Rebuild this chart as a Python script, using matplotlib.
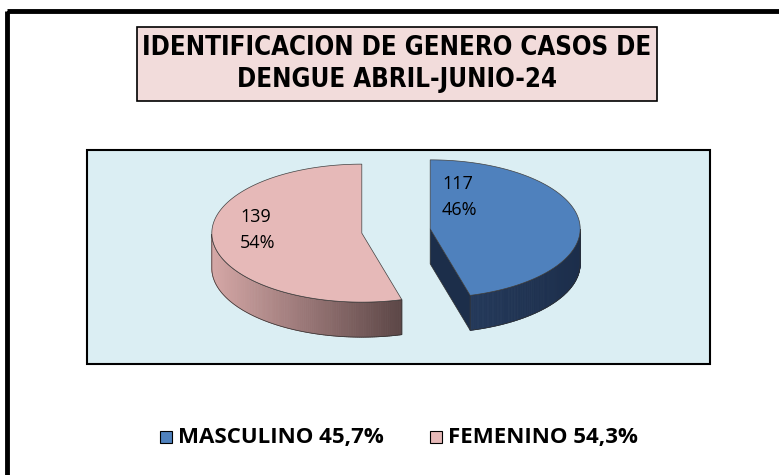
import numpy as np
import matplotlib
matplotlib.use("Agg")
import matplotlib.pyplot as plt
from matplotlib.patches import Polygon, Rectangle
from matplotlib.colors import to_rgb

# data
labels = ["MASCULINO", "FEMENINO"]
cases = [117, 139]
legend_pct = ["45,7%", "54,3%"]
top_colors = ["#4F81BD", "#E6B9B8"]
title = "IDENTIFICACION DE GENERO CASOS DE\nDENGUE ABRIL-JUNIO-24"

W, H = 779, 475
fig = plt.figure(figsize=(W / 100, H / 100), dpi=100)
ax = fig.add_axes([0, 0, 1, 1])
ax.set_xlim(0, W)
ax.set_ylim(H, 0)
ax.axis("off")

# outer frame
ax.add_patch(Rectangle((7, 11), 820, 520, fill=False, ec="black", lw=3.5))

# title box
ax.add_patch(Rectangle((137, 27), 520, 74, fc="#F2DCDB", ec="black", lw=1.2))
ax.text(397, 64, title, ha="center", va="center", fontsize=18.5, fontweight="bold",
        family="DejaVu Sans", fontstretch="condensed", linespacing=1.3)

# plot area
ax.add_patch(Rectangle((87, 150), 623, 214, fc="#DBEEF3", ec="black", lw=1.5))

# pie geometry (pixel units)
cx, cy = 396, 231
rx, ry = 150, 69
depth = 35
explode = 0.23

total = sum(cases)
spans = [360.0 * v / total for v in cases]


def pt(theta, ox, oy, dz=0):
    t = np.radians(theta)
    return (cx + ox + rx * np.cos(t), cy + oy - ry * np.sin(t) + dz)


def blend(c1, c2, f):
    a, b = np.array(to_rgb(c1)), np.array(to_rgb(c2))
    return tuple(a + (b - a) * f)


wall_cols = [("#24395A", "#1C2E4B"), ("#D6A8A7", "#5C4646")]
cut_col = "#1C2E4A"
label_pos = [(442, 197), (240, 230)]

start = 90.0
for i, span in enumerate(spans):
    a1, a2 = start, start - span
    mid = (a1 + a2) / 2
    ox = explode * rx * np.cos(np.radians(mid))
    oy = -explode * ry * np.sin(np.radians(mid))
    c = (cx + ox, cy + oy)

    # radial cut faces
    for ang, vis in ((a1, np.cos(np.radians(a1)) < -1e-6),
                     (a2, np.cos(np.radians(a2)) > 1e-6)):
        if vis:
            p = pt(ang, ox, oy)
            quad = [c, p, (p[0], p[1] + depth), (c[0], c[1] + depth)]
            ax.add_patch(Polygon(quad, closed=True, fc=cut_col, ec="#303030", lw=0.5))

    # outer wall (front half only), shaded in strips
    angs = np.linspace(a2, a1, 240)
    front = angs[np.sin(np.radians(angs)) < 0]
    if len(front) > 1:
        xs = [pt(a, ox, oy)[0] for a in front]
        x0, x1 = min(xs), max(xs)
        for k in range(len(front) - 1):
            p0 = pt(front[k], ox, oy)
            p1 = pt(front[k + 1], ox, oy)
            f = ((p0[0] + p1[0]) / 2 - x0) / (x1 - x0)
            col = blend(wall_cols[i][0], wall_cols[i][1], f)
            quad = [p0, p1, (p1[0], p1[1] + depth), (p0[0], p0[1] + depth)]
            ax.add_patch(Polygon(quad, closed=True, fc=col, ec=col, lw=0.6))
        outline = [pt(a, ox, oy) for a in front] + \
                  [pt(a, ox, oy, depth) for a in front[::-1]]
        ax.add_patch(Polygon(outline, closed=True, fill=False, ec="#303030", lw=0.5))

    # top face
    arc = [pt(a, ox, oy) for a in np.linspace(a1, a2, 200)]
    ax.add_patch(Polygon([c] + arc, closed=True, fc=top_colors[i], ec="#404040", lw=0.5))

    pct = round(100 * cases[i] / total)
    ax.text(label_pos[i][0], label_pos[i][1], f"{cases[i]}\n{pct}%", ha="left", va="center",
            fontsize=13, family="Open Sans", linespacing=1.6)
    start = a2

# legend
lx = [160, 430]
for i in range(2):
    ax.add_patch(Rectangle((lx[i], 431), 12, 12, fc=top_colors[i], ec="black", lw=0.8))
    ax.text(lx[i] + 18, 437.5, f"{labels[i]} {legend_pct[i]}", ha="left", va="center",
            fontsize=16, fontweight="bold", family="Open Sans")

fig.savefig("out.png", dpi=100)
